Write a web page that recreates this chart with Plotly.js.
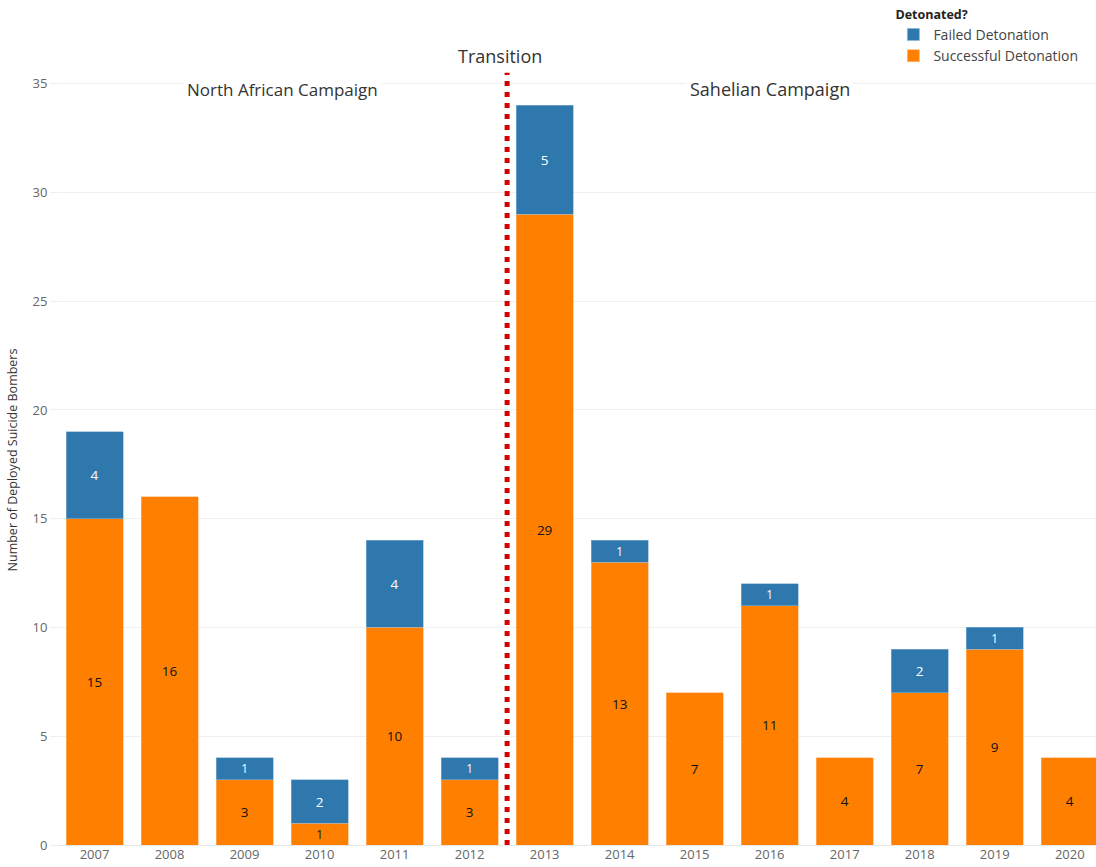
<!DOCTYPE html>
<html><head><meta charset="utf-8">
<script src="https://cdn.plot.ly/plotly-3.0.1.min.js"></script>
<style>html,body{margin:0;padding:0;background:#fff;}#chart{width:1096px;height:867px;}</style>
</head><body><div id="chart"></div>
<script>
const years = ['2007','2008','2009','2010','2011','2012','2013','2014','2015','2016','2017','2018','2019','2020'];
const successful = [15,16,3,1,10,3,29,13,7,11,4,7,9,4];
const failed = [4,0,1,2,4,1,5,1,0,1,0,2,1,0];
const yTicks = [0,5,10,15,20,25,30,35];

const font = '"Open Sans", "Noto Sans", sans-serif';
const traces = [
  {type:'bar', name:'Successful Detonation', x:years, y:successful,
   marker:{color:'#ff8000', line:{color:'#ffb877', width:0.6}},
   text:successful.map(v=>v>0?String(v):''), textposition:'inside', insidetextanchor:'middle',
   textangle:0, textfont:{color:'#111', size:13.5, family:font}, hoverinfo:'x+y+name'},
  {type:'bar', name:'Failed Detonation', x:years, y:failed.map(v=>v>0?v:null),
   marker:{color:'#2e78ae', line:{color:'#86b3d6', width:0.6}},
   text:failed.map(v=>v>0?String(v):''), textposition:'inside', insidetextanchor:'middle',
   textangle:0, textfont:{color:'#fff', size:13.5, family:font}, hoverinfo:'x+y+name'}
];

const layout = {
  width:1096, height:867,
  margin:{l:57, r:0, t:75, b:22},
  paper_bgcolor:'#fff', plot_bgcolor:'#fff',
  font:{family:font, color:'#555'},
  barmode:'stack', bargap:0.24,
  showlegend:true,
  legend:{x:0.805, y:1.094, xanchor:'left', yanchor:'top', traceorder:'reversed',
    title:{text:'<b>Detonated?</b>', side:'top', font:{size:12.5, color:'#222', family:font}},
    font:{size:14, color:'#444', family:font}, itemwidth:30, tracegroupgap:0, bgcolor:'rgba(0,0,0,0)'},
  xaxis:{type:'category', range:[-0.5,13.35], tickfont:{size:13, color:'#666'},
    showgrid:false, zeroline:false, showline:false, ticks:'', ticklen:0},
  yaxis:{range:[0,35.4], tickvals:yTicks, ticktext:yTicks.map(String),
    tickfont:{size:13, color:'#666'}, gridcolor:'#efefef', gridwidth:1, zeroline:true, zerolinecolor:'#e6e6e6',
    showline:false, ticks:'outside', ticklen:6, tickcolor:'#efefef',
    title:{text:'Number of Deployed Suicide Bombers', font:{size:12.5, color:'#333'}, standoff:12}},
  shapes:[
    {type:'line', xref:'x', yref:'paper', x0:5.5, x1:5.5, y0:0, y1:1.003,
     line:{color:'#d40000', width:5, dash:'5px,6px'}}
  ],
  annotations:[
    {text:'Transition', xref:'x', yref:'paper', x:5.4, y:1.006, yanchor:'bottom', showarrow:false,
     font:{size:18, color:'#333', family:font}},
    {text:'North African Campaign', xref:'x', yref:'y', x:2.5, y:34.75, showarrow:false,
     font:{size:17, color:'#333', family:font}, bgcolor:'#fff', borderpad:3},
    {text:'Sahelian Campaign', xref:'x', yref:'y', x:9.0, y:34.75, showarrow:false,
     font:{size:18, color:'#333', family:font}, bgcolor:'#fff', borderpad:3}
  ]
};
Plotly.newPlot('chart', traces, layout, {displayModeBar:false, staticPlot:true});
</script></body></html>
